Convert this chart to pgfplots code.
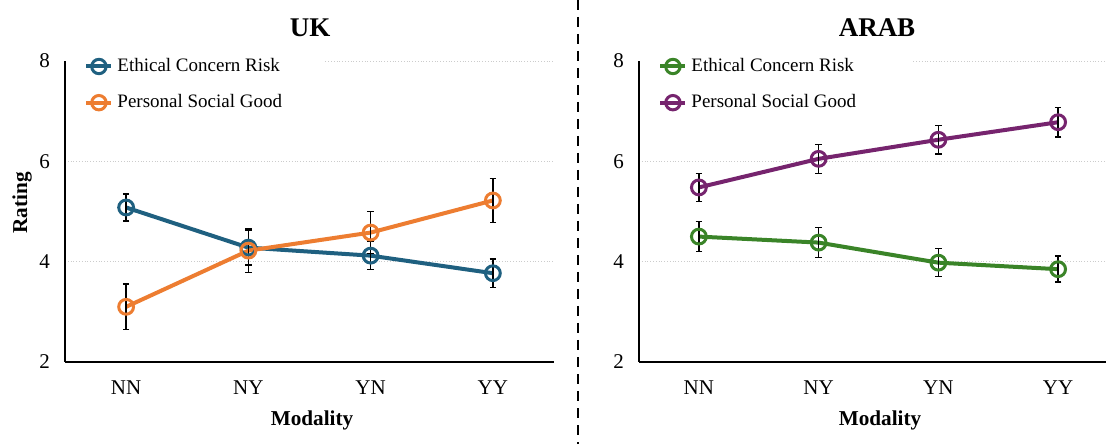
\documentclass[border=0pt]{standalone}
\usepackage{pgfplots}
\pgfplotsset{compat=1.18}
\usepackage{fontspec}
\setmainfont{Liberation Serif}
\definecolor{ukblue}{RGB}{31,96,128}
\definecolor{ukorange}{RGB}{237,125,49}
\definecolor{argreen}{RGB}{58,132,40}
\definecolor{arpurple}{RGB}{118,36,110}

\pgfplotstableread{
x  e1   d1   p1   q1
0  5.08 0.27 3.10 0.45
1  4.28 0.35 4.22 0.44
2  4.12 0.28 4.58 0.42
3  3.77 0.28 5.22 0.44
}\uk
\pgfplotstableread{
x  e1   d1   p1   q1
0  4.50 0.30 5.48 0.28
1  4.38 0.30 6.05 0.29
2  3.98 0.28 6.43 0.28
3  3.85 0.26 6.78 0.29
}\arab

\pgfplotsset{
  panel/.style={
    scale only axis,
    height=150.5pt,
    ymin=2, ymax=8,
    xmin=-0.5,
    ytick={2,4,6,8},
    xtick={0,1,2,3},
    xticklabels={NN,NY,YN,YY},
    axis x line=bottom,
    axis y line=left,
    axis line style={-, line width=1pt, black},
    major tick length=0pt,
    ymajorgrids,
    major grid style={gray!40, densely dotted, line width=0.5pt},
    /pgf/number format/assume math mode=true,
    tick label style={font=\rmfamily\fontsize{10.5}{12}\selectfont},
    xticklabel style={yshift=-6pt},
    yticklabel style={xshift=-4pt},
    legend style={draw=none, fill=white, at={(0,1)}, anchor=north west,
      font=\rmfamily\fontsize{9.5}{11}\selectfont, inner xsep=8.5pt, inner ysep=0pt,
      xshift=1pt, yshift=3.5pt, row sep=6pt},
    legend cell align=left,
    legend image code/.code={\draw[mark repeat=2, mark phase=2, line width=2pt]
      plot coordinates {(0cm,0cm) (0.22cm,0cm) (0.44cm,0cm)};},
    ln/.style={line width=2pt, color=##1, mark=none},
    mk/.style={only marks, mark=o, mark size=3.7pt,
      mark options={fill=white, draw=##1, line width=1.5pt, solid}},
    lg/.style={line width=2pt, color=##1, mark=o, mark size=3.6pt,
      mark options={fill=white, draw=##1, line width=1.5pt, solid}},
    error bars/error bar style={black, line width=0.75pt},
    error bars/error mark options={rotate=90, black, mark size=1.6pt, line width=0.75pt},
  }
}

\begin{document}
\begin{tikzpicture}[x=1pt,y=1pt]
\useasboundingbox (0,0) rectangle (553,222);

% ---------- UK ----------
\begin{axis}[panel, at={(32.5pt,41pt)}, anchor=south west, width=244.5pt, xmax=3.5]
\addlegendimage{lg=ukblue}
\addlegendentry{\makebox[93pt][l]{Ethical Concern Risk}}
\addlegendimage{lg=ukorange}
\addlegendentry{\makebox[93pt][l]{Personal Social Good}}
\addplot[ln=ukblue, forget plot, error bars/.cd, y dir=both, y explicit]
  table[x=x, y=e1, y error=d1] {\uk};
\addplot[mk=ukblue, forget plot] table[x=x, y=e1] {\uk};
\addplot[ln=ukorange, forget plot, error bars/.cd, y dir=both, y explicit]
  table[x=x, y=p1, y error=q1] {\uk};
\addplot[mk=ukorange, forget plot] table[x=x, y=p1] {\uk};
\end{axis}

% ---------- ARAB ----------
\begin{axis}[panel, at={(319.5pt,41pt)}, anchor=south west, width=233.5pt, xmax=3.4]
\addlegendimage{lg=argreen}
\addlegendentry{\makebox[100pt][l]{Ethical Concern Risk}}
\addlegendimage{lg=arpurple}
\addlegendentry{\makebox[100pt][l]{Personal Social Good}}
\addplot[ln=argreen, forget plot, error bars/.cd, y dir=both, y explicit]
  table[x=x, y=e1, y error=d1] {\arab};
\addplot[mk=argreen, forget plot] table[x=x, y=e1] {\arab};
\addplot[ln=arpurple, forget plot, error bars/.cd, y dir=both, y explicit]
  table[x=x, y=p1, y error=q1] {\arab};
\addplot[mk=arpurple, forget plot] table[x=x, y=p1] {\arab};
\end{axis}

% titles and labels
\node[font=\bfseries\fontsize{13.5}{16}\selectfont] at (155,208) {UK};
\node[font=\bfseries\fontsize{13.5}{16}\selectfont] at (438.5,208) {ARAB};
\node[font=\bfseries\fontsize{10.6}{12}\selectfont] at (156,12) {Modality};
\node[font=\bfseries\fontsize{10.6}{12}\selectfont] at (440,12) {Modality};
\node[font=\bfseries\fontsize{10.6}{12}\selectfont, rotate=90] at (11,120.5) {Rating};

% divider
\draw[line width=1.3pt, dash pattern=on 5pt off 3.5pt] (289,222) -- (289,0);
\end{tikzpicture}
\end{document}
